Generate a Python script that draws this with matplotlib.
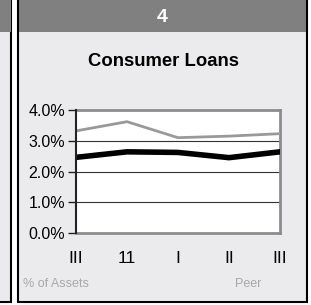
import matplotlib
matplotlib.use("Agg")
import matplotlib.pyplot as plt
from matplotlib.patches import Rectangle

periods = ["III", "11", "I", "II", "III"]
peer = [3.32, 3.62, 3.10, 3.15, 3.23]
bank = [2.46, 2.64, 2.62, 2.45, 2.64]
yticks = [0.0, 1.0, 2.0, 3.0, 4.0]
ytick_labels = ["0.0%", "1.0%", "2.0%", "3.0%", "4.0%"]

W, H = 311, 305
fig = plt.figure(figsize=(W / 100, H / 100), dpi=100)
fig.patch.set_facecolor("white")

FONT = ["Liberation Sans", "DejaVu Sans"]

# background panels in pixel coordinates
bg = fig.add_axes([0, 0, 1, 1])
bg.set_xlim(0, W)
bg.set_ylim(H, 0)
bg.axis("off")
# partial left panel
bg.add_patch(Rectangle((-5, 0), 15.5, 301.5, facecolor="#ebebed", edgecolor="black", lw=1.5))
bg.add_patch(Rectangle((-5, 0), 15.5, 32, facecolor="#808080", edgecolor="none"))
# main panel
bg.add_patch(Rectangle((17.5, 0), 289, 301.5, facecolor="#ebebed", edgecolor="none"))
bg.add_patch(Rectangle((17.5, 0), 289, 32, facecolor="#808080", edgecolor="none"))
bg.add_patch(Rectangle((17.5, -2), 289, 303.5, facecolor="none", edgecolor="black", lw=1.5))

bg.text(162, 17, "4", color="white", fontsize=14, fontweight="bold", family=FONT,
        ha="center", va="center")
bg.text(164, 62, "Consumer Loans", color="black", fontsize=13.3, fontweight="bold",
        family=FONT, ha="center", va="center")
bg.text(23, 284, "% of Assets", color="#a8a8a8", fontsize=9, family=FONT, ha="left", va="center")
bg.text(235, 284, "Peer", color="#a8a8a8", fontsize=9, family=FONT, ha="left", va="center")

# plot area
x0, x1 = 76, 280
ytop, ybot = 110, 233
ax = fig.add_axes([x0 / W, 1 - ybot / H, (x1 - x0) / W, (ybot - ytop) / H])
ax.set_facecolor("white")
xs = list(range(len(periods)))
ax.set_xlim(0, len(periods) - 1)
ax.set_ylim(0, 4.0)
for y in [1.0, 2.0, 3.0]:
    ax.axhline(y, color="#333333", lw=0.8, zorder=1)
ax.plot(xs, peer, color="#999999", lw=2.0, zorder=3, solid_joinstyle="miter")
ax.plot(xs, bank, color="black", lw=4.0, zorder=4, solid_joinstyle="miter")

for s in ["top", "right", "bottom"]:
    ax.spines[s].set_color("#8c8c8c")
    ax.spines[s].set_linewidth(2.0)
ax.spines["left"].set_color("#222222")
ax.spines["left"].set_linewidth(1.5)
ax.spines["left"].set_zorder(5)

ax.set_yticks(yticks)
ax.set_yticklabels(ytick_labels, family=FONT, fontsize=11.5)
ax.tick_params(axis="y", length=6, width=1, color="#222222", pad=2)
ax.set_xticks(xs)
ax.set_xticklabels(periods, family=FONT, fontsize=12.5)
ax.tick_params(axis="x", length=0, pad=13)

fig.savefig("out.png", dpi=100)
